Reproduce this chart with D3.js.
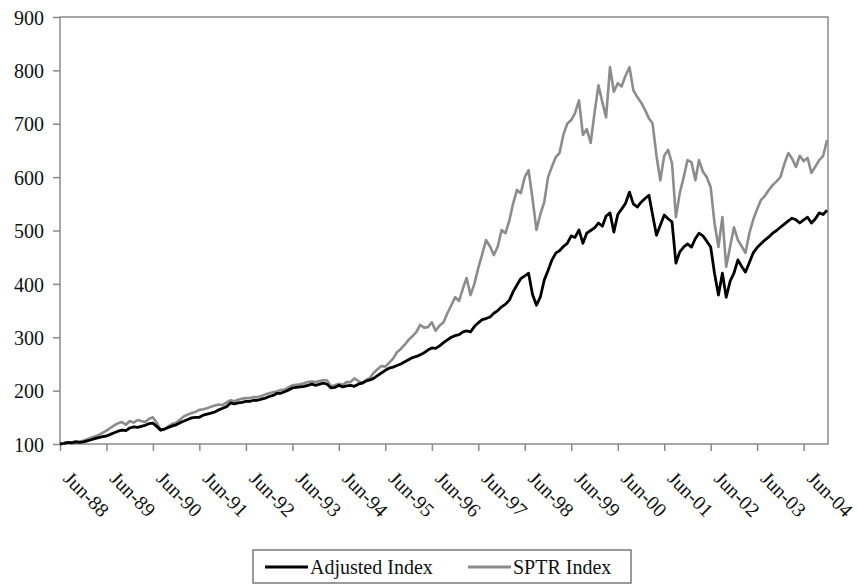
<!DOCTYPE html>
<meta charset="utf-8">
<style>
    html, body {
        margin: 0;
        background: white;
    }

    svg text {
        font-family: "Liberation Serif", "Times New Roman", serif;
        font-size: 20px;
        fill: #111;
    }

    .frame {
        fill: none;
        stroke: #8a8a8a;
        stroke-width: 1.5px;
    }

    .tick line {
        stroke: #8a8a8a;
        stroke-width: 1.5px;
    }
</style>
<div id="container"></div>
<script src="https://d3js.org/d3.v7.min.js"></script>
<script>
    // monthly values, first one is Jun-88
    var startMonth = new Date(1988, 5, 1);

    var adjustedIndex = [
        100, 101, 103, 102, 104, 103, 104, 106, 108, 110, 112, 114,
        115, 118, 121, 124, 126, 125, 130, 132, 131, 133, 135, 138,
        139, 133, 126, 128, 131, 134, 136, 140, 143, 146, 149, 150,
        150, 154, 156, 158, 160, 164, 167, 170, 177, 175, 177, 178,
        180, 180, 182, 182, 184, 186, 189, 191, 195, 195, 198, 201,
        205, 206, 207, 208, 210, 212, 210, 212, 214, 212, 205, 206,
        210, 207, 209, 210, 208, 212, 214, 218, 220, 223, 228, 233,
        238, 242, 244, 247, 250, 254, 258, 262, 264, 267, 271, 276,
        280, 279, 284, 290, 295, 300, 303, 305, 310, 312, 310, 320,
        327, 333, 335, 338, 345, 350, 357, 362, 370, 385, 398, 410,
        415, 420, 380, 360, 375, 407, 425, 445, 458, 462, 470, 476,
        490, 487, 501, 476, 495, 500, 505, 514, 508, 527, 533, 497,
        530, 540, 551, 572, 550, 544, 553, 560, 566, 530, 491, 510,
        529, 522, 516, 439, 460, 469, 475, 469, 485, 495, 490, 480,
        469, 420, 379, 420, 375, 405, 420, 445, 432, 422, 440, 458,
        468, 475, 482, 488, 495, 500, 506, 512, 518, 523, 520, 514,
        520, 525, 514, 522, 533, 530, 538
    ];

    var sptrIndex = [
        100, 101, 103, 103, 105, 104, 106, 109, 112, 114, 117, 121,
        125, 130, 135, 139, 141, 136, 143, 140, 145, 143, 141, 147,
        150, 140, 126, 128, 133, 138, 140, 146, 152, 155, 158, 160,
        164, 165, 167, 170, 172, 174, 173, 178, 182, 180, 183, 185,
        186, 186, 188, 188, 190, 193, 195, 197, 199, 201, 202, 206,
        210, 211, 212, 214, 216, 217, 216, 218, 220, 219, 208, 210,
        213, 211, 216, 216, 223, 218, 214, 220, 224, 233, 240, 246,
        245, 252, 260, 272, 278, 286, 295, 302, 310, 323, 318, 319,
        328, 312, 322, 328, 345, 360, 375, 368, 392, 411, 379, 400,
        430, 455, 482, 470, 454, 470, 501, 495, 520, 550, 576, 570,
        600, 613, 560, 501, 530, 553, 600, 620, 638, 645, 680, 700,
        707, 720, 744, 679, 690, 664, 720, 772, 740, 712, 806, 760,
        776, 770, 790, 806, 763, 750, 740, 726, 710, 701, 640, 594,
        640, 651, 626, 525, 570, 600, 632, 628, 594, 632, 610, 600,
        581, 514, 469, 525, 432, 470, 506, 482, 470, 458, 495, 520,
        540, 557, 565, 576, 585, 592, 600, 625, 645, 635, 619, 640,
        630, 636, 608, 620, 632, 640, 669
    ];

    var yTicks = [100, 200, 300, 400, 500, 600, 700, 800, 900];
    var xTickLabels = ["Jun-88", "Jun-89", "Jun-90", "Jun-91", "Jun-92", "Jun-93", "Jun-94", "Jun-95",
        "Jun-96", "Jun-97", "Jun-98", "Jun-99", "Jun-00", "Jun-01", "Jun-02", "Jun-03", "Jun-04"];

    var seriesNames = ["Adjusted Index", "SPTR Index"];
    var seriesColors = ["#000000", "#8c8c8c"];
    var seriesWidths = [2.8, 2.6];

    var width = 857, height = 584;
    // plot area edges (note: "top" is taken by window.top)
    var plotLeft = 60, plotRight = 828, plotTop = 17, plotBottom = 444;

    var svg = d3.select("div#container")
        .append("svg")
        .attr("width", width)
        .attr("height", height);

    function monthDate(i) { return d3.timeMonth.offset(startMonth, i); }

    var x = d3.scaleTime()
        .domain([startMonth, monthDate(adjustedIndex.length - 1)])
        .range([plotLeft, 827]);

    var y = d3.scaleLinear()
        .domain([100, 900])
        .range([plotBottom, plotTop]);

    // plot frame
    svg.append("rect")
        .attr("class", "frame")
        .attr("x", plotLeft)
        .attr("y", plotTop)
        .attr("width", plotRight - plotLeft)
        .attr("height", plotBottom - plotTop);

    // y axis ticks + labels
    var yAxis = svg.append("g")
        .attr("transform", "translate(" + plotLeft + ",0)")
        .call(d3.axisLeft(y).tickValues(yTicks).tickSize(7).tickPadding(9));
    yAxis.select(".domain").remove();
    yAxis.selectAll("text")
        .attr("font-family", null)
        .attr("font-size", null)
        .attr("dy", "0.36em");

    // x axis: a tick every June, labels slanted
    var xTicks = xTickLabels.map(function(d, i) { return monthDate(i * 12); });
    var xAxis = svg.append("g")
        .attr("transform", "translate(0," + plotBottom + ")")
        .call(d3.axisBottom(x).tickValues(xTicks).tickSize(7)
            .tickFormat(function(d, i) { return xTickLabels[i]; }));
    xAxis.select(".domain").remove();
    xAxis.selectAll("text")
        .attr("font-family", null)
        .attr("font-size", null)
        .attr("y", 0)
        .attr("dy", "0.35em")
        .attr("text-anchor", "middle")
        .attr("transform", "translate(26,50) rotate(45)");

    // lines, grey one first so black sits on top
    var line = d3.line()
        .x(function(d, i) { return x(monthDate(i)); })
        .y(function(d) { return y(d); });

    var series = [adjustedIndex, sptrIndex];
    [1, 0].forEach(function(k) {
        svg.append("path")
            .datum(series[k])
            .attr("fill", "none")
            .attr("stroke", seriesColors[k])
            .attr("stroke-width", seriesWidths[k])
            .attr("stroke-linejoin", "round")
            .attr("d", line);
    });

    // legend
    var legend = svg.append("g");
    legend.append("rect")
        .attr("x", 253)
        .attr("y", 550)
        .attr("width", 378)
        .attr("height", 33)
        .attr("fill", "white")
        .attr("stroke", "#7a7a7a")
        .attr("stroke-width", 1.5);

    var legendX = [265, 468];
    seriesNames.forEach(function(name, i) {
        legend.append("line")
            .attr("x1", legendX[i])
            .attr("x2", legendX[i] + 43)
            .attr("y1", 567)
            .attr("y2", 567)
            .attr("stroke", seriesColors[i])
            .attr("stroke-width", 3.2);
        legend.append("text")
            .attr("x", legendX[i] + 45)
            .attr("y", 567)
            .attr("dy", "0.35em")
            .text(name);
    });
</script>
